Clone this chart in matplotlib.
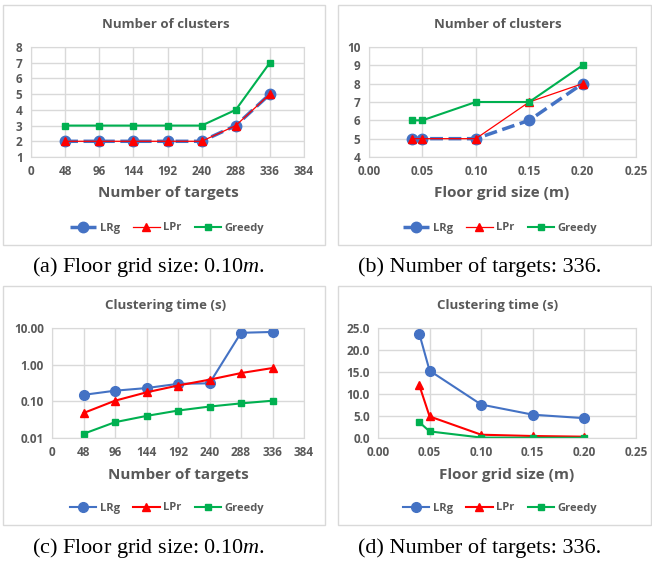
import matplotlib
matplotlib.use("Agg")
import matplotlib.pyplot as plt
from matplotlib.patches import Rectangle
from matplotlib.ticker import FixedLocator, FuncFormatter

# data
targets = [48, 96, 144, 192, 240, 288, 336]
grid_sizes = [0.04, 0.05, 0.10, 0.15, 0.20]

clusters_t_lrg = [2, 2, 2, 2, 2, 3, 5]
clusters_t_lpr = [2, 2, 2, 2, 2, 3, 5]
clusters_t_greedy = [3, 3, 3, 3, 3, 4, 7]

clusters_g_lrg = [5, 5, 5, 6, 8]
clusters_g_lpr = [5, 5, 5, 7, 8]
clusters_g_greedy = [6, 6, 7, 7, 9]

time_t_lrg = [0.15, 0.195, 0.23, 0.30, 0.31, 7.4, 7.8]
time_t_lpr = [0.048, 0.104, 0.176, 0.27, 0.39, 0.59, 0.81]
time_t_greedy = [0.013, 0.027, 0.040, 0.056, 0.072, 0.088, 0.104]

time_g_lrg = [23.7, 15.3, 7.6, 5.3, 4.5]
time_g_lpr = [12.0, 4.9, 0.75, 0.45, 0.3]
time_g_greedy = [3.6, 1.5, 0.1, 0.05, 0.05]

series_names = ["LRg", "LPr", "Greedy"]
captions = ["(a) Floor grid size: 0.10$\\mathit{m}$.",
            "(b) Number of targets: 336.",
            "(c) Floor grid size: 0.10$\\mathit{m}$.",
            "(d) Number of targets: 336."]

W, H = 652, 569
BLUE = "#4472C4"
RED = "#FF0000"
GREEN = "#00B050"
GRID = "#D9D9D9"
TXT = "#595959"

plt.rcParams["font.family"] = ["Open Sans", "DejaVu Sans"]
plt.rcParams["mathtext.fontset"] = "custom"
plt.rcParams["mathtext.it"] = "Liberation Serif:italic"
plt.rcParams["mathtext.rm"] = "Liberation Serif"

fig = plt.figure(figsize=(W / 100, H / 100), dpi=100)


def px_ax(x0, y0, x1, y1):
    return fig.add_axes([x0 / W, 1 - y1 / H, (x1 - x0) / W, (y1 - y0) / H])


def ftext(x, y, s, **kw):
    fig.text(x / W, 1 - y / H, s, ha="center", va="center", **kw)


def box(x0, y0, x1, y1):
    fig.patches.append(Rectangle((x0 / W, 1 - y1 / H), (x1 - x0) / W, (y1 - y0) / H,
                                 transform=fig.transFigure, fill=False,
                                 edgecolor=GRID, linewidth=1))


def style(ax):
    ax.grid(True, color=GRID, linewidth=1)
    ax.set_axisbelow(True)
    for s in ax.spines.values():
        s.set_color(GRID)
    ax.tick_params(length=0, labelsize=8.5, labelcolor=TXT, pad=6)
    for lab in ax.get_xticklabels() + ax.get_yticklabels():
        lab.set_fontweight("bold")


def legend(ax, cx, cy):
    h, l = ax.get_legend_handles_labels()
    fig.legend(h, l, loc="center", bbox_to_anchor=(cx / W, 1 - cy / H), ncol=3,
               frameon=False, handlelength=2.4, columnspacing=1.2, handletextpad=0.3,
               prop={"size": 8, "weight": "bold"}, labelcolor=TXT)


boxes = [(3, 5, 325, 245), (338, 5, 651, 245), (3, 286, 325, 525), (338, 286, 651, 525)]
for b in boxes:
    box(*b)

# (a)
ax = px_ax(31, 47, 304, 157)
ax.plot(targets, clusters_t_lrg, color=BLUE, ls="--", lw=2.5, marker="o", ms=7.5, label=series_names[0])
ax.plot(targets, clusters_t_lpr, color=RED, lw=0.9, marker="^", ms=6, label=series_names[1])
ax.plot(targets, clusters_t_greedy, color=GREEN, lw=1.5, marker="s", ms=4.5, label=series_names[2])
ax.set_xlim(0, 384)
ax.set_ylim(1, 8)
ax.set_xticks(range(0, 385, 48))
ax.set_yticks(range(1, 9))
style(ax)
ftext(166, 24, "Number of clusters", fontsize=9.5, fontweight="bold", color=TXT)
ftext(168, 193, "Number of targets", fontsize=11, fontweight="bold", color=TXT)
legend(ax, 167, 228)

# (b)
ax = px_ax(369, 47, 636, 157)
ax.plot(grid_sizes, clusters_g_lrg, color=BLUE, ls="--", lw=2.5, marker="o", ms=7.5, label=series_names[0])
ax.plot(grid_sizes, clusters_g_lpr, color=RED, lw=0.9, marker="^", ms=6, label=series_names[1])
ax.plot(grid_sizes, clusters_g_greedy, color=GREEN, lw=1.5, marker="s", ms=4.5, label=series_names[2])
ax.set_xlim(0, 0.25)
ax.set_ylim(4, 10)
ax.set_xticks([0, 0.05, 0.10, 0.15, 0.20, 0.25])
ax.xaxis.set_major_formatter(FuncFormatter(lambda v, p: f"{v:.2f}"))
ax.set_yticks(range(4, 11))
style(ax)
ftext(498, 24, "Number of clusters", fontsize=9.5, fontweight="bold", color=TXT)
ftext(502, 193, "Floor grid size (m)", fontsize=11, fontweight="bold", color=TXT)
legend(ax, 500, 228)

# (c)
ax = px_ax(52, 328, 304, 438)
ax.plot(targets, time_t_lrg, color=BLUE, lw=1.5, marker="o", ms=7, label=series_names[0])
ax.plot(targets, time_t_lpr, color=RED, lw=1.5, marker="^", ms=6, label=series_names[1])
ax.plot(targets, time_t_greedy, color=GREEN, lw=1.5, marker="s", ms=5, label=series_names[2])
ax.set_yscale("log")
ax.set_xlim(0, 384)
ax.set_ylim(0.01, 10)
ax.set_xticks(range(0, 385, 48))
ax.yaxis.set_major_locator(FixedLocator([0.01, 0.1, 1, 10]))
ax.yaxis.set_minor_locator(FixedLocator([]))
ax.yaxis.set_major_formatter(FuncFormatter(lambda v, p: f"{v:.2f}"))
style(ax)
ftext(166, 305, "Clustering time (s)", fontsize=9.5, fontweight="bold", color=TXT)
ftext(178, 475, "Number of targets", fontsize=11, fontweight="bold", color=TXT)
legend(ax, 167, 508)

# (d)
ax = px_ax(378, 328, 636, 438)
ax.plot(grid_sizes, time_g_lrg, color=BLUE, lw=1.5, marker="o", ms=7, label=series_names[0])
ax.plot(grid_sizes, time_g_lpr, color=RED, lw=1.5, marker="^", ms=6, label=series_names[1])
ax.plot(grid_sizes, time_g_greedy, color=GREEN, lw=1.5, marker="s", ms=5, label=series_names[2])
ax.set_xlim(0, 0.25)
ax.set_ylim(0, 25)
ax.set_xticks([0, 0.05, 0.10, 0.15, 0.20, 0.25])
ax.xaxis.set_major_formatter(FuncFormatter(lambda v, p: f"{v:.2f}"))
ax.set_yticks(range(0, 26, 5))
ax.yaxis.set_major_formatter(FuncFormatter(lambda v, p: f"{v:.1f}"))
style(ax)
ftext(498, 305, "Clustering time (s)", fontsize=9.5, fontweight="bold", color=TXT)
ftext(507, 475, "Floor grid size (m)", fontsize=11, fontweight="bold", color=TXT)
legend(ax, 500, 508)

# captions
cap_pos = [(148, 267), (480, 267), (148, 548), (480, 548)]
for (cx, cy), c in zip(cap_pos, captions):
    ftext(cx, cy, c, fontsize=16, family="Liberation Serif", color="black")

fig.savefig("out.png", dpi=100)
